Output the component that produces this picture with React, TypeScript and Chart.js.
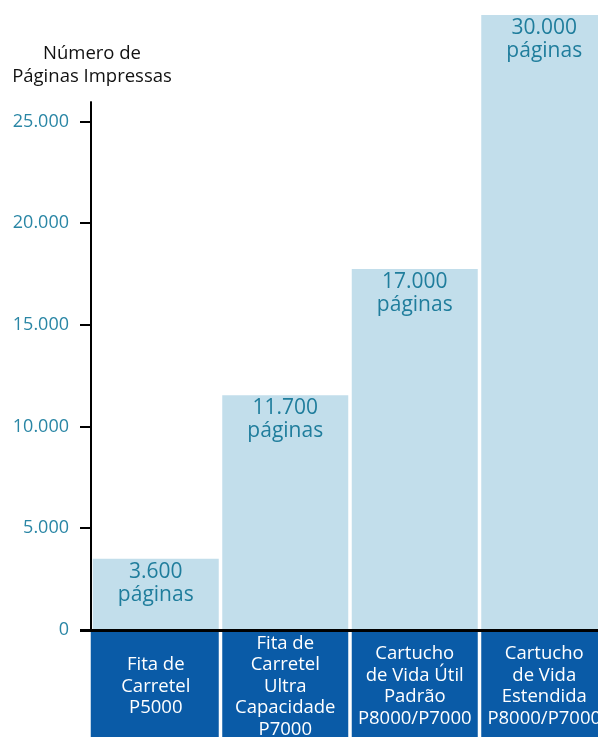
import React, { useEffect, useRef } from "react";
import { Chart, registerables } from "chart.js";

Chart.register(...registerables);

const categoryLines: string[][] = [
  ["Fita de", "Carretel", "P5000"],
  ["Fita de", "Carretel", "Ultra", "Capacidade", "P7000"],
  ["Cartucho", "de Vida Útil", "Padrão", "P8000/P7000"],
  ["Cartucho", "de Vida", "Estendida", "P8000/P7000"],
];
// bar heights as drawn in the picture
const barHeights = [3500, 11550, 17750, 30250];
// printed labels on the bars
const valueLabels = ["3.600", "11.700", "17.000", "30.000"];
const unitLabel = "páginas";
const axisTitle = ["Número de", "Páginas Impressas"];
const yTicks = [0, 5000, 10000, 15000, 20000, 25000];
const yMax = 29910;
const axisTop = 26000;

const FONT = "'Open Sans', 'Noto Sans', sans-serif";
const fmt = (v: number) => String(v).replace(/\B(?=(\d{3})+(?!\d))/g, ".");

const decorPlugin = {
  id: "decor",
  afterDatasetsDraw(chart: any) {
    const ctx = chart.ctx;
    const y = chart.scales.y;
    const meta = chart.getDatasetMeta(0);
    const zeroY = y.getPixelForValue(0);
    ctx.save();
    meta.data.forEach((el: any, i: number) => {
      const w = el.width;
      const left = i === 0 ? el.x - w / 2 - 2 : el.x - w / 2;
      const right = el.x + w / 2;
      ctx.fillStyle = "#0a5ba7";
      ctx.fillRect(left, zeroY + 2, right - left, chart.height - zeroY);
      const lines = categoryLines[i];
      ctx.fillStyle = "#ffffff";
      ctx.font = `18.5px ${FONT}`;
      ctx.textAlign = "center";
      ctx.textBaseline = "alphabetic";
      const center = zeroY + 55;
      lines.forEach((t, j) => {
        const cy = center + (j - (lines.length - 1) / 2) * 21.5;
        ctx.fillText(t, el.x, cy + 6.5);
      });
      ctx.fillStyle = "#1f7d9c";
      ctx.font = `21px ${FONT}`;
      ctx.fillText(valueLabels[i], el.x, el.y + 19);
      ctx.fillText(unitLabel, el.x, el.y + 42);
    });
    ctx.fillStyle = "#000";
    ctx.fillRect(80, zeroY - 1, chart.width - 80, 3);
    const top = y.getPixelForValue(axisTop);
    ctx.fillRect(90, top, 2, zeroY - top);
    ctx.fillStyle = "#111";
    ctx.font = `18.5px ${FONT}`;
    ctx.textAlign = "center";
    ctx.fillText(axisTitle[0], 92, 59);
    ctx.fillText(axisTitle[1], 92, 82);
    ctx.restore();
  },
};

export default function App() {
  const ref = useRef<HTMLCanvasElement | null>(null);
  useEffect(() => {
    if (!ref.current) return;
    const chart = new Chart(ref.current, {
      type: "bar",
      data: {
        labels: categoryLines.map((l) => l.join(" ")),
        datasets: [
          {
            data: barHeights,
            backgroundColor: "#c2deeb",
            borderWidth: 0,
            barPercentage: 1,
            categoryPercentage: 0.973,
            clip: false,
          },
        ],
      },
      options: {
        animation: false,
        responsive: false,
        devicePixelRatio: 1,
        layout: { padding: { top: 21, bottom: 107, left: 0, right: 0 } },
        plugins: { legend: { display: false }, tooltip: { enabled: false } },
        scales: {
          x: { display: false },
          y: {
            min: 0,
            max: yMax,
            afterBuildTicks: (s: any) => {
              s.ticks = yTicks.map((v) => ({ value: v }));
            },
            afterFit: (s: any) => {
              s.width = 91;
            },
            border: { display: false },
            grid: {
              drawOnChartArea: false,
              drawTicks: true,
              tickLength: 11,
              color: "#000",
              lineWidth: 2,
            },
            ticks: {
              padding: 11,
              color: "#2a86a5",
              font: { family: FONT, size: 18 },
              callback: (v: any) => fmt(Number(v)),
            },
          },
        },
      },
      plugins: [decorPlugin],
    });
    return () => chart.destroy();
  }, []);
  return (
    <div
      style={{
        position: "absolute",
        left: 0,
        top: 0,
        width: 598,
        height: 737,
        overflow: "hidden",
        background: "#fff",
      }}
    >
      <canvas ref={ref} width={609} height={737} style={{ display: "block", width: 609, height: 737 }} />
    </div>
  );
}
